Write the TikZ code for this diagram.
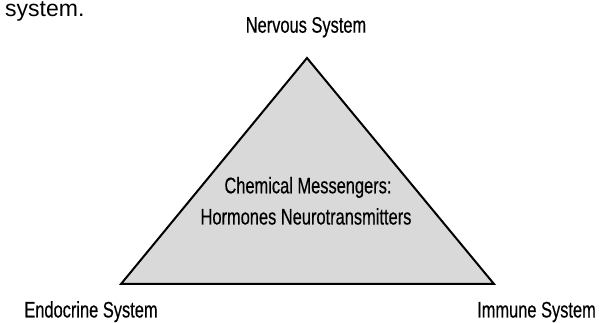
\documentclass[tikz,border=0pt]{standalone}
\usepackage{fontspec}
\setmainfont{Liberation Sans}
\newfontfamily\condfont[FakeStretch=0.73,FakeBold=0.4]{Liberation Sans}
\definecolor{trifill}{RGB}{217,217,217}
\begin{document}
\begin{tikzpicture}[x=1pt,y=1pt,
  lbl/.style={inner sep=0pt,anchor=base,font=\condfont\fontsize{22.5}{27}\selectfont,text=black},
  tri/.style={draw=black,line width=2pt,fill=trifill,line join=miter}]
\useasboundingbox (0,0) rectangle (605,323);
\node[inner sep=0pt,anchor=base west,font=\fontsize{23}{27}\selectfont] (sys) at (5,306) {system.};
\coordinate (apex) at (307,265);
\coordinate (bl) at (121,39);
\coordinate (br) at (494,39);
\draw[tri] (apex) -- (bl) -- (br) -- cycle;
\node[lbl] (nerv) at (306,290.3) {Nervous System};
\node[lbl] (endo) at (91,5.5) {Endocrine System};
\node[lbl] (immu) at (536.5,5.5) {Immune System};
\node[lbl] (chem) at (308,129.7) {Chemical Messengers:};
\node[lbl] (horm) at (306,98.5) {Hormones Neurotransmitters};
\end{tikzpicture}
\end{document}
